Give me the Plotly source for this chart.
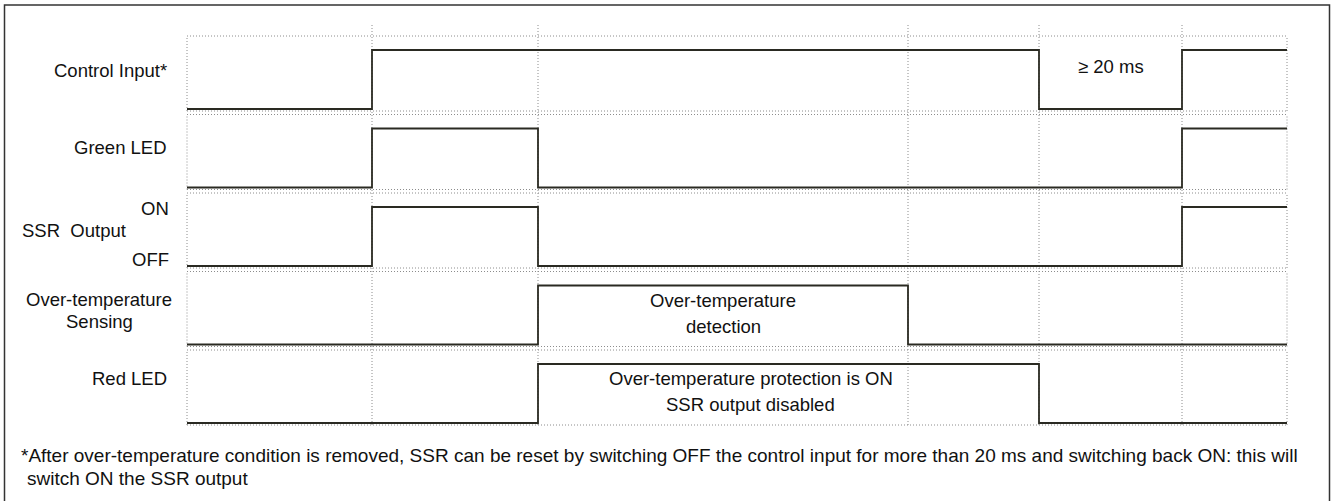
import plotly.graph_objects as go

# ---------------- data ----------------
# transition instants (arbitrary time units)
edges = [0, 185, 351, 721, 852, 995, 1100]
row_names = ["Control Input*", "Green LED", "SSR  Output", ["Over-temperature", "Sensing"], "Red LED"]
level_names = ["ON", "OFF"]
# logic level in each of the 6 intervals between edges
control_input = [0, 1, 1, 1, 0, 1]
green_led     = [0, 1, 0, 0, 0, 1]
ssr_output    = [0, 1, 0, 0, 0, 1]
overtemp_sens = [0, 0, 1, 0, 0, 0]
red_led       = [0, 0, 1, 1, 0, 0]
signals = [control_input, green_led, ssr_output, overtemp_sens, red_led]
grid_times = [185, 351, 721, 852, 995]
label_20ms = "≥ 20 ms"
label_detect = ["Over-temperature", "detection"]
label_protect = ["Over-temperature protection is ON", "SSR output disabled"]
footnote = ["*After over-temperature condition is removed, SSR can be reset by switching OFF the control input "
            "for more than 20 ms and switching back ON: this will",
            "switch ON the SSR output"]

# ---------------- layout constants ----------------
W, H = 1333, 501
X0PX, X1PX = 187, 1287           # pixel span of time axis
ROW0_LOW_PX, PITCH_PX = 109, 78.5
AMP = 59 / PITCH_PX               # high level in row units
BOX_TOP = 73 / PITCH_PX
BOX_BOT = -2 / PITCH_PX
scale = (edges[-1] - edges[0]) / (X1PX - X0PX)
xr = [edges[0] - X0PX * scale, edges[0] + (W - X0PX) * scale]
yr = [-(H - ROW0_LOW_PX) / PITCH_PX, ROW0_LOW_PX / PITCH_PX]

def py(px):  # pixel row -> paper y
    return 1 - px / H

def pxx(px):
    return px / W

FONT = "Liberation Sans, Arial, Helvetica, sans-serif"
LINE_COL = "#2a2a22"
GRID_COL = "#8c8c8c"
DOT = "1px,2px"
FS = 18.5

fig = go.Figure()

for i, lv in enumerate(signals):
    base = -i
    ys = [base + AMP * v for v in lv] + [base + AMP * lv[-1]]
    fig.add_trace(go.Scatter(x=edges, y=ys, mode="lines", line=dict(color=LINE_COL, width=1.8, shape="hv"),
                             hoverinfo="skip", showlegend=False))

shapes = []
n = len(signals)
for i in range(n):
    base = -i
    for yy in (base + BOX_TOP, base + BOX_BOT):
        shapes.append(dict(type="line", xref="x", yref="y", x0=edges[0], x1=edges[-1], y0=yy, y1=yy,
                           line=dict(color=GRID_COL, width=1, dash=DOT), layer="below"))
    for xx in (edges[0], edges[-1]):
        shapes.append(dict(type="line", xref="x", yref="y", x0=xx, x1=xx, y0=base + BOX_BOT, y1=base + BOX_TOP,
                           line=dict(color=GRID_COL, width=1, dash=DOT), layer="below"))
top_ext = (ROW0_LOW_PX - 24) / PITCH_PX
for t in grid_times:
    shapes.append(dict(type="line", xref="x", yref="y", x0=t, x1=t, y0=-(n - 1) + BOX_BOT, y1=top_ext,
                       line=dict(color=GRID_COL, width=1, dash=DOT), layer="below"))
# outer frame
shapes.append(dict(type="rect", xref="paper", yref="paper", x0=pxx(4.5), x1=pxx(1329.5), y0=py(5), y1=py(H + 5),
                   line=dict(color="#333333", width=1.5), fillcolor="rgba(0,0,0,0)"))

ann = []
def txt(text, x, y, xanchor="center", xref="paper", size=FS):
    ann.append(dict(text=text, x=x, y=y, xref=xref, yref="paper", xanchor=xanchor, yanchor="middle",
                    showarrow=False, font=dict(family=FONT, size=size, color="#111111")))

# row labels
txt(row_names[0], pxx(169), py(70.5), "right")
txt(row_names[1], pxx(169), py(147), "right")
txt(level_names[0], pxx(171), py(209), "right")
txt(row_names[2], pxx(74), py(231), "center")
txt(level_names[1], pxx(171), py(259), "right")
txt(row_names[3][0], pxx(99), py(299.5), "center")
txt(row_names[3][1], pxx(99), py(321.5), "center")
txt(row_names[4], pxx(169), py(378), "right")

# in-plot labels
txt(label_20ms, (grid_times[3] + grid_times[4]) / 2, py(66), "center", xref="x")
cx = (grid_times[1] + grid_times[2]) / 2
txt(label_detect[0], cx, py(300), "center", xref="x")
txt(label_detect[1], cx, py(326), "center", xref="x")
txt(label_protect[0], pxx(751), py(378), "center")
txt(label_protect[1], pxx(751), py(404), "center")

# footnote
txt(footnote[0], pxx(19), py(455), "left", size=19)
txt(footnote[1], pxx(25), py(478), "left", size=19)

fig.update_layout(
    width=W, height=H, margin=dict(l=0, r=0, t=0, b=0),
    paper_bgcolor="white", plot_bgcolor="white",
    xaxis=dict(range=xr, visible=False, fixedrange=True),
    yaxis=dict(range=yr, visible=False, fixedrange=True),
    shapes=shapes, annotations=ann, showlegend=False,
    font=dict(family=FONT, size=FS),
)
fig.write_html("out.html", config={"displayModeBar": False},
               post_script="document.body.style.margin='0';document.body.style.padding='0';document.body.style.overflow='hidden';")
